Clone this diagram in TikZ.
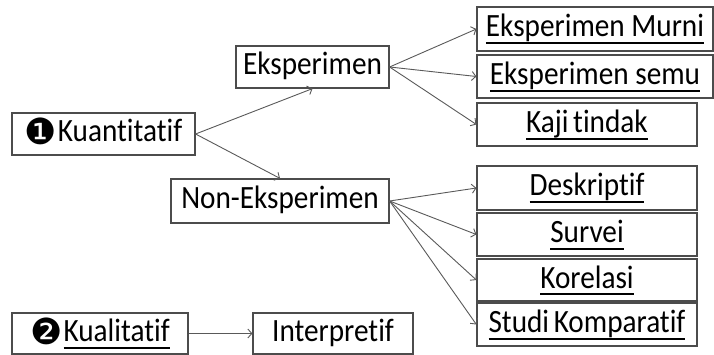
\documentclass[tikz,border=0pt]{standalone}
\usepackage{fontspec}
\setmainfont[Ligatures=NoCommon,FakeStretch=0.9]{Carlito}
\newfontfamily\dejavu{DejaVu Sans}
\usetikzlibrary{arrows.meta}
\newlength\garislen
\newcommand\garis[1]{\settowidth\garislen{#1}\rlap{\rule[-7.4pt]{\garislen}{2pt}}#1}
\newcommand\bulat[1]{\raisebox{-2.5pt}{\dejavu\fontsize{36}{36}\selectfont #1}\hspace{1pt}}
\begin{document}
\begin{tikzpicture}[x=1pt,y=-1pt,>={Straight Barb[length=4pt,width=9pt]},
	box/.style={draw=black!70,line width=1.2pt,inner sep=0pt,text height=20pt,text depth=4pt,font=\fontsize{32.5}{34}\selectfont},
	arr/.style={->,draw=black!65,line width=0.9pt}]
	\useasboundingbox (0,0) rectangle (714,355);
	\node[box,minimum width=183pt,minimum height=42pt] (kuan) at (103.5,134) {\bulat{❶}Kuantitatif};
	\node[box,minimum width=153pt,minimum height=42pt] (eks) at (312.5,67) {Eksperimen};
	\node[box,minimum width=218pt,minimum height=44pt] (noneks) at (280,201) {Non-Eksperimen};
	\node[box,minimum width=236pt,minimum height=44pt] (murni) at (595,29) {\garis{Eksperimen Murni}};
	\node[box,minimum width=236pt,minimum height=43pt] (semu) at (595,76.5) {\garis{Eksperimen semu}};
	\node[box,minimum width=220pt,minimum height=43pt] (kaji) at (587,124.5) {\garis{Kaji\hspace{-2pt} tindak}};
	\node[box,minimum width=220pt,minimum height=44pt] (desk) at (587,188) {\garis{Deskriptif}};
	\node[box,minimum width=220pt,minimum height=43pt] (survei) at (587,234.5) {\garis{Survei}};
	\node[box,minimum width=220pt,minimum height=42pt] (kor) at (587,280) {\garis{Korelasi}};
	\node[box,minimum width=220pt,minimum height=43pt] (studi) at (587,324.5) {\garis{Studi\hspace{-2pt} Komparatif}};
	\node[box,minimum width=176pt,minimum height=41pt] (kual) at (100,333.5) {\bulat{❷}\garis{Kualitatif}};
	\node[box,minimum width=160pt,minimum height=41pt] (interp) at (333,333.5) {Interpretif};
	% cabang kuantitatif
	\draw[arr] (kuan.east)--(eks.south);
	\draw[arr] (kuan.east)--(noneks.north);
	\draw[arr] (eks.east)--(murni.west);
	\draw[arr] (eks.east)--(semu.west);
	\draw[arr] (eks.east)--(kaji.west);
	\draw[arr] (noneks.east)--(desk.west);
	\draw[arr] (noneks.east)--(survei.west);
	\draw[arr] (noneks.east)--(kor.west);
	\draw[arr] (noneks.east)--(studi.west);
	% kualitatif
	\draw[arr] (kual.east)--(interp.west);
\end{tikzpicture}
\end{document}
